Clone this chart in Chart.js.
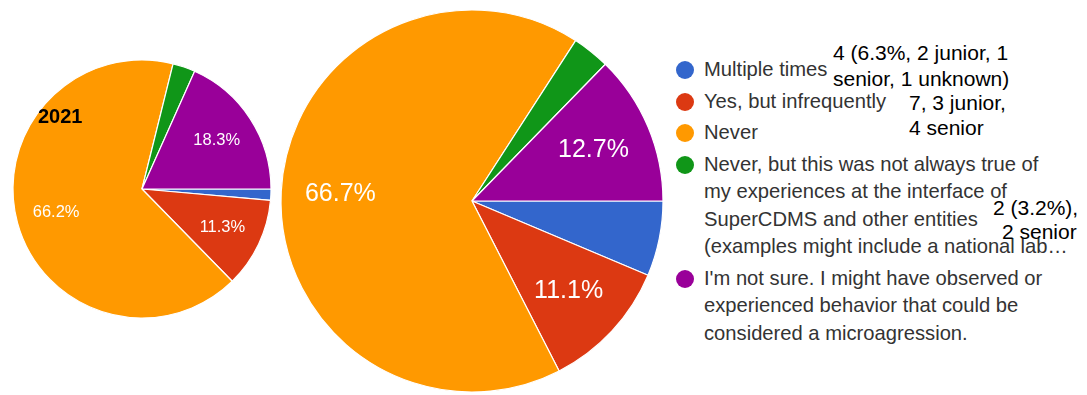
<!DOCTYPE html>
<html><head><meta charset="utf-8">
<script src="https://cdn.jsdelivr.net/npm/chart.js@4/dist/chart.umd.min.js"></script>
<style>
html,body{margin:0;padding:0;width:1087px;height:395px;overflow:hidden;background:#fff;font-family:"Liberation Sans",Arial,sans-serif;}
.abs{position:absolute;}
#legend{position:absolute;left:675px;top:56.3px;}
.item{position:relative;padding-left:29px;margin-bottom:4.2px;color:#333;font-size:20.2px;line-height:27.4px;white-space:nowrap;}
.dot{position:absolute;left:1px;top:4.7px;width:18px;height:18px;border-radius:50%;}
.note{position:absolute;color:#000;font-size:21px;white-space:nowrap;}
#y2021{position:absolute;left:38px;top:105px;font-weight:bold;font-size:20px;color:#000;}
</style></head><body>
<div class="abs" style="left:2px;top:49px;"><canvas id="pieA" width="280" height="280"></canvas></div>
<div class="abs" style="left:272px;top:1px;"><canvas id="pieB" width="400" height="400"></canvas></div>
<div id="y2021">2021</div>
<div id="legend"></div>
<div class="note" style="left:833px;top:40px;line-height:26px;">4 (6.3%, 2 junior, 1<br>senior, 1 unknown)</div>
<div class="note" style="left:909px;top:90px;line-height:25px;">7, 3 junior,<br>4 senior</div>
<div class="note" style="left:993px;top:196px;line-height:24px;">2 (3.2%),<br><span style="margin-left:9px">2 senior</span></div>
<script>
const categories = [
  'Multiple times',
  'Yes, but infrequently',
  'Never',
  'Never, but this was not always true of my experiences at the interface of SuperCDMS and other entities (examples might include a national lab\u2026',
  "I'm not sure. I might have observed or experienced behavior that could be considered a microagression."
];
const legendLines = [
  ['Multiple times'],
  ['Yes, but infrequently'],
  ['Never'],
  ['Never, but this was not always true of','my experiences at the interface of','SuperCDMS and other entities','(examples might include a national lab\u2026'],
  ["I'm not sure. I might have observed or",'experienced behavior that could be','considered a microagression.']
];
const counts2021 = [1, 8, 47, 2, 13];
const countsLater = [4, 7, 42, 2, 8];
const sliceColors = ['#3366cc', '#dc3912', '#ff9900', '#109618', '#990099'];

const pctLabels = {
  id: 'pctLabels',
  afterDatasetsDraw(chart, args, opts) {
    const ctx = chart.ctx;
    const ds = chart.data.datasets[0];
    const total = ds.data.reduce((a, b) => a + b, 0);
    chart.getDatasetMeta(0).data.forEach((arc, i) => {
      const pct = ds.data[i] / total * 100;
      if (pct < opts.min) return;
      const p = arc.getProps(['x', 'y', 'startAngle', 'endAngle', 'outerRadius'], true);
      const mid = (p.startAngle + p.endAngle) / 2;
      const rr = p.outerRadius * opts.factor;
      ctx.save();
      ctx.fillStyle = '#fff';
      ctx.font = opts.font;
      ctx.textAlign = 'center';
      ctx.textBaseline = 'middle';
      ctx.fillText(pct.toFixed(1) + '%', p.x + Math.cos(mid) * rr, p.y + Math.sin(mid) * rr);
      ctx.restore();
    });
  }
};

function makePie(id, values, radius, font) {
  return new Chart(document.getElementById(id), {
    type: 'pie',
    data: {
      labels: categories,
      datasets: [{
        data: values,
        backgroundColor: sliceColors,
        borderColor: '#ffffff',
        borderWidth: 1.2,
        hoverOffset: 0
      }]
    },
    options: {
      responsive: false,
      animation: false,
      rotation: 90,
      radius: radius,
      layout: { padding: 0 },
      events: [],
      plugins: {
        legend: { display: false },
        tooltip: { enabled: false },
        pctLabels: { min: 8, factor: 0.69, font: font }
      }
    },
    plugins: [pctLabels]
  });
}

makePie('pieA', counts2021, 129, '16.5px "Liberation Sans", Arial, sans-serif');
makePie('pieB', countsLater, 191, '25px "Liberation Sans", Arial, sans-serif');

const leg = document.getElementById('legend');
legendLines.forEach((lines, i) => {
  const it = document.createElement('div');
  it.className = 'item';
  const d = document.createElement('span');
  d.className = 'dot';
  d.style.background = sliceColors[i];
  it.appendChild(d);
  const t = document.createElement('span');
  t.innerHTML = lines.map(s => s.replace(/&/g,'&amp;').replace(/</g,'&lt;')).join('<br>');
  t.title = categories[i];
  it.appendChild(t);
  leg.appendChild(it);
});
</script>
</body></html>
